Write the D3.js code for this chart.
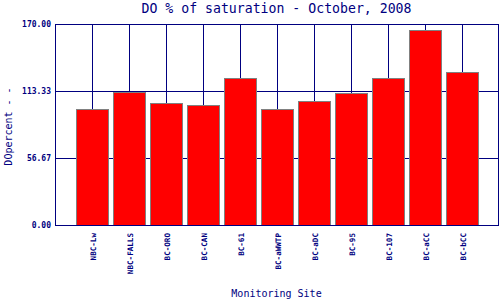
<!DOCTYPE html>
<html>
<head>
<meta charset="utf-8">
<script src="https://cdn.jsdelivr.net/npm/d3@7"></script>
<style>
  body { margin: 0; background: #fff; }
  svg { display: block; }
  text { font-family: "DejaVu Sans Mono", monospace; fill: #000080; }
</style>
</head>
<body>
<div id="chart"></div>
<script>
// chart data
const sites = ['NBC-Lw', 'NBC-FALLS', 'BC-ORO', 'BC-CAN', 'BC-61', 'BC-aWWTP',
  'BC-aDC', 'BC-95', 'BC-107', 'BC-aCC', 'BC-bCC'];
const doPercent = [98.1, 112.5, 102.9, 101.2, 124.1, 98.1, 104.9, 111.4, 124.1, 164.7, 129.4];
const yTicks = [0, 56.67, 113.33, 170];

const title = 'DO % of saturation - October, 2008';
const xTitle = 'Monitoring Site';
const yTitle = 'DOpercent - -';

const width = 500, height = 300;
const plot = { left: 55, right: 499, top: 24, bottom: 225 };
const navy = '#000080';

const svg = d3.select('#chart').append('svg')
  .attr('width', width)
  .attr('height', height);

const x = d3.scaleBand()
  .domain(sites)
  .range([plot.left, plot.right])
  .paddingInner(0)
  .paddingOuter(0.5);

const y = d3.scaleLinear()
  .domain([0, 170])
  .range([plot.bottom, plot.top]);

const cx = s => Math.round(x(s) + x.bandwidth() / 2) + 0.5;

// gridlines
svg.append('g')
  .selectAll('line')
  .data(sites)
  .join('line')
  .attr('x1', cx).attr('x2', cx)
  .attr('y1', plot.top).attr('y2', plot.bottom)
  .attr('stroke', navy);

svg.append('g')
  .selectAll('line')
  .data(yTicks)
  .join('line')
  .attr('x1', plot.left).attr('x2', plot.right)
  .attr('y1', d => Math.round(y(d)) + 0.5)
  .attr('y2', d => Math.round(y(d)) + 0.5)
  .attr('stroke', navy);

// bars
const barW = 32;
svg.append('g')
  .selectAll('rect')
  .data(doPercent)
  .join('rect')
  .attr('x', (d, i) => cx(sites[i]) - barW / 2)
  .attr('y', d => Math.round(y(d)) + 0.5)
  .attr('width', barW)
  .attr('height', d => plot.bottom - Math.round(y(d)))
  .attr('fill', '#ff0000')
  .attr('stroke', '#808080')
  .attr('stroke-width', 1);

// frame
svg.append('rect')
  .attr('x', plot.left + 0.5)
  .attr('y', plot.top + 0.5)
  .attr('width', plot.right - plot.left - 1)
  .attr('height', plot.bottom - plot.top)
  .attr('fill', 'none')
  .attr('stroke', navy);

// y tick labels
svg.append('g')
  .selectAll('text')
  .data(yTicks)
  .join('text')
  .attr('x', 51)
  .attr('y', d => y(d) + 3)
  .attr('text-anchor', 'end')
  .attr('font-size', 8)
  .attr('font-weight', 'bold')
  .text(d => d.toFixed(2));

// x tick labels, rotated
svg.append('g')
  .selectAll('text')
  .data(sites)
  .join('text')
  .attr('transform', s => `translate(${cx(s) + 3},233) rotate(-90)`)
  .attr('text-anchor', 'end')
  .attr('font-size', 7.6)
  .attr('font-weight', 'bold')
  .text(s => s);

// titles
svg.append('text')
  .attr('x', 276.5)
  .attr('y', 13)
  .attr('text-anchor', 'middle')
  .attr('font-size', 13.2)
  .text(title);

svg.append('text')
  .attr('x', 276.5)
  .attr('y', 297)
  .attr('text-anchor', 'middle')
  .attr('font-size', 10)
  .text(xTitle);

svg.append('text')
  .attr('transform', 'translate(12,126.5) rotate(-90)')
  .attr('text-anchor', 'middle')
  .attr('font-size', 10)
  .text(yTitle);
</script>
</body>
</html>
